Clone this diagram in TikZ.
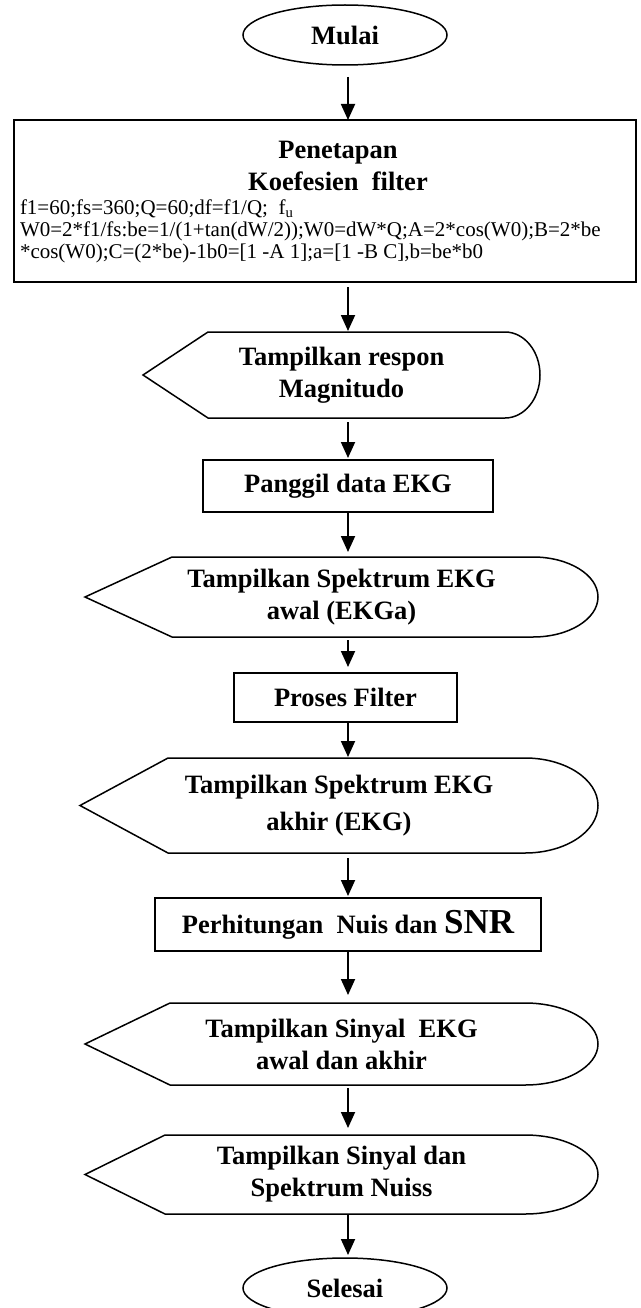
\documentclass[tikz,border=0pt]{standalone}
\usepackage{fontspec}
\setmainfont{Liberation Serif}
\usetikzlibrary{arrows.meta,shapes.geometric}

% Display (output) shape drawn round an invisible frame node:
% #1 node name, #2 horizontal run of the left slants, #3 width of the right bulge,
% #4 half height of the frame
\newcommand\dispoutline[4]{%
  \draw[outline] (#1.west) -- ([xshift=#2]#1.north west)
    -- ([xshift=-#3]#1.north east)
    arc[start angle=90, end angle=-90, x radius=#3, y radius=#4]
    -- ([xshift=#2]#1.south west) -- cycle;}

\begin{document}
\begin{tikzpicture}[x=1pt, y=-1pt,
  lbl/.style={font=\bfseries\fontsize{26.5}{32}\selectfont, align=center},
  frame/.style={inner sep=0pt, outer sep=0pt},
  procbox/.style={frame, draw, line width=1.8pt},
  term/.style={frame, draw, ellipse, line width=1.5pt},
  outline/.style={line width=1.5pt, line join=miter},
  arr/.style={line width=1.8pt, -{Triangle[length=16pt, width=14pt]}},
]
\useasboundingbox (0,0) rectangle (640,1308);
\coordinate (axis) at (348,0);

% terminals
\node[term, lbl, minimum width=204pt, minimum height=60pt] (start) at (345,35) {Mulai};
\node[term, lbl, minimum width=204pt, minimum height=60pt] (stop) at (345,1288) {Selesai};

% filter coefficients
\node[procbox, minimum width=622pt, minimum height=162pt] (coef) at (325,201) {};
\node[lbl, frame] (coeftitle) at (338,166) {Penetapan\\Koefesien~~filter};
\node[frame, anchor=west, align=left, font=\fontsize{21}{22}\selectfont] (coefeq) at (20,231)
  {f1=60;fs=360;Q=60;df=f1/Q;~~f\textsubscript{u}\\
   W0=2*f1/fs:be=1/(1+tan(dW/2));W0=dW*Q;A=2*cos(W0);B=2*be\\
   *cos(W0);C=(2*be)-1b0=[1 -A 1];a=[1 -B C],b=be*b0};

% displays
\node[frame, lbl, minimum width=397pt, minimum height=86pt] (resp) at (341.5,375)
  {Tampilkan respon\\Magnitudo};
\dispoutline{resp}{65pt}{35pt}{43pt}

\node[procbox, lbl, minimum width=290pt, minimum height=52pt] (load) at (348,486) {Panggil data EKG};

\node[frame, lbl, minimum width=513pt, minimum height=80pt] (specA) at (341.5,597)
  {Tampilkan Spektrum EKG\\awal (EKGa)};
\dispoutline{specA}{87pt}{65pt}{40pt}

\node[procbox, lbl, minimum width=223pt, minimum height=49pt] (filt) at (345.5,697.5) {Proses Filter};

\node[frame, lbl, minimum width=518pt, minimum height=95pt] (specB) at (339,805.5)
  {Tampilkan Spektrum EKG\\[5pt]akhir (EKG)};
\dispoutline{specB}{88pt}{73pt}{47.5pt}

\node[procbox, lbl, minimum width=386pt, minimum height=53pt] (snr) at (348,924.5)
  {Perhitungan~~Nuis dan {\fontsize{35}{35}\selectfont SNR}};

\node[frame, lbl, minimum width=513pt, minimum height=82pt] (sig) at (341.5,1044)
  {Tampilkan Sinyal~~EKG\\awal dan akhir};
\dispoutline{sig}{85pt}{73pt}{41pt}

\node[frame, lbl, minimum width=513pt, minimum height=79pt] (nuis) at (341.5,1174.5)
  {Tampilkan Sinyal dan\\Spektrum Nuiss};
\dispoutline{nuis}{80pt}{73pt}{39.5pt}

% flow
\draw[arr, shorten <=12pt] (start.south -| axis) -- (coef.north -| axis);
\draw[arr, shorten <=5pt, shorten >=1pt] (coef.south -| axis) -- (resp.north -| axis);
\draw[arr, shorten <=4pt, shorten >=2pt] (resp.south -| axis) -- (load.north -| axis);
\draw[arr, shorten >=5pt] (load.south -| axis) -- (specA.north -| axis);
\draw[arr, shorten <=3pt, shorten >=6pt] (specA.south -| axis) -- (filt.north -| axis);
\draw[arr, shorten >=1pt] (filt.south -| axis) -- (specB.north -| axis);
\draw[arr, shorten <=5pt, shorten >=2pt] (specB.south -| axis) -- (snr.north -| axis);
\draw[arr, shorten >=8pt] (snr.south -| axis) -- (sig.north -| axis);
\draw[arr, shorten <=3pt, shorten >=7pt] (sig.south -| axis) -- (nuis.north -| axis);
\draw[arr, shorten >=3pt] (nuis.south -| axis) -- (stop.north -| axis);
\end{tikzpicture}
\end{document}
